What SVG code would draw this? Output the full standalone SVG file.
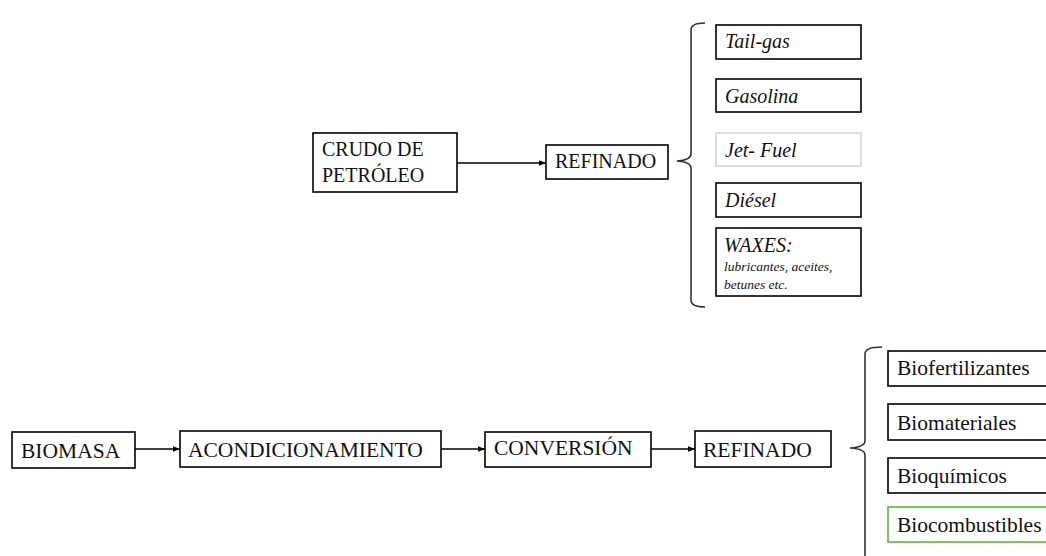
<svg xmlns="http://www.w3.org/2000/svg" width="1046" height="556" viewBox="0 0 1046 556">
<style>
.box{fill:#fff;stroke:#000;stroke-width:1.6}
.t{font-family:"Liberation Serif","Times New Roman",serif;fill:#111}
.c{font-size:20px}
.b{font-size:21.5px}
.i{font-style:italic;font-size:20px}
.s{font-style:italic;font-size:13.5px}
.brace{fill:none;stroke:#333;stroke-width:1.6}
.con{stroke:#000;stroke-width:1.5;fill:none;marker-end:url(#ah)}
</style>
<defs>
<marker id="ah" viewBox="0 0 10 10" refX="10" refY="5" markerWidth="5" markerHeight="5" orient="auto" markerUnits="strokeWidth">
<path d="M0,1 L10,5 L0,9 z" fill="#000"/>
</marker>
</defs>
<rect width="1046" height="556" fill="#fff"/>
<g id="connectors">
<line class="con" x1="457" y1="163" x2="546" y2="163"/>
<line class="con" x1="135" y1="449" x2="180" y2="449"/>
<line class="con" x1="441" y1="449" x2="485" y2="449"/>
<line class="con" x1="651" y1="449" x2="695" y2="449"/>
<path class="brace" d="M705,23 Q691,23 691,30 L691,154 Q691,160 677,161 Q691,162 691,168 L691,300 Q691,307 705,307"/>
<path class="brace" d="M882,347 Q865,347 865,354 L865,441 Q865,447 850,448 Q865,449 865,455 L865,560"/>
</g>
<g id="crudo">
<rect class="box" x="313" y="133" width="144" height="59"/>
<text class="t c" x="322" y="156">CRUDO DE</text>
<text class="t c" x="322" y="182">PETRÓLEO</text>
</g>
<g id="refinado1">
<rect class="box" x="546" y="145" width="122" height="34"/>
<text class="t c" x="555" y="168">REFINADO</text>
</g>
<g id="tailgas">
<rect class="box" x="716" y="25" width="145" height="34"/>
<text class="t i" x="725" y="48">Tail-gas</text>
</g>
<g id="gasolina">
<rect class="box" x="716" y="79" width="145" height="33"/>
<text class="t i" x="725" y="103">Gasolina</text>
</g>
<g id="jetfuel">
<rect x="716" y="133" width="145" height="33" fill="#fff" stroke="#d4d4d4" stroke-width="1.6"/>
<text class="t i" x="725" y="157">Jet- Fuel</text>
</g>
<g id="diesel">
<rect class="box" x="716" y="183" width="145" height="34"/>
<text class="t i" x="725" y="207">Diésel</text>
</g>
<g id="waxes">
<rect class="box" x="716" y="228" width="145" height="68"/>
<text class="t i" x="724" y="252">WAXES:</text>
<text class="t s" x="724" y="271">lubricantes, aceites,</text>
<text class="t s" x="724" y="289">betunes etc.</text>
</g>
<g id="biomasa">
<rect class="box" x="12" y="432" width="123" height="36"/>
<text class="t b" x="21" y="458">BIOMASA</text>
</g>
<g id="acondicionamiento">
<rect class="box" x="180" y="431" width="261" height="36"/>
<text class="t b" x="188" y="457">ACONDICIONAMIENTO</text>
</g>
<g id="conversion">
<rect class="box" x="485" y="432" width="166" height="35"/>
<text class="t b" x="494" y="455">CONVERSIÓN</text>
</g>
<g id="refinado2">
<rect class="box" x="695" y="431" width="136" height="36"/>
<text class="t b" x="703" y="457">REFINADO</text>
</g>
<g id="biofertilizantes">
<rect class="box" x="888" y="351" width="170" height="35"/>
<text class="t b" x="897" y="375">Biofertilizantes</text>
</g>
<g id="biomateriales">
<rect class="box" x="888" y="404" width="170" height="36"/>
<text class="t b" x="897" y="430">Biomateriales</text>
</g>
<g id="bioquimicos">
<rect class="box" x="888" y="458" width="170" height="35"/>
<text class="t b" x="897" y="483">Bioquímicos</text>
</g>
<g id="biocombustibles">
<rect x="888" y="507" width="170" height="35" fill="#fff" stroke="#5bb832" stroke-width="1.6"/>
<text class="t b" x="897" y="532">Biocombustibles</text>
</g>
</svg>
